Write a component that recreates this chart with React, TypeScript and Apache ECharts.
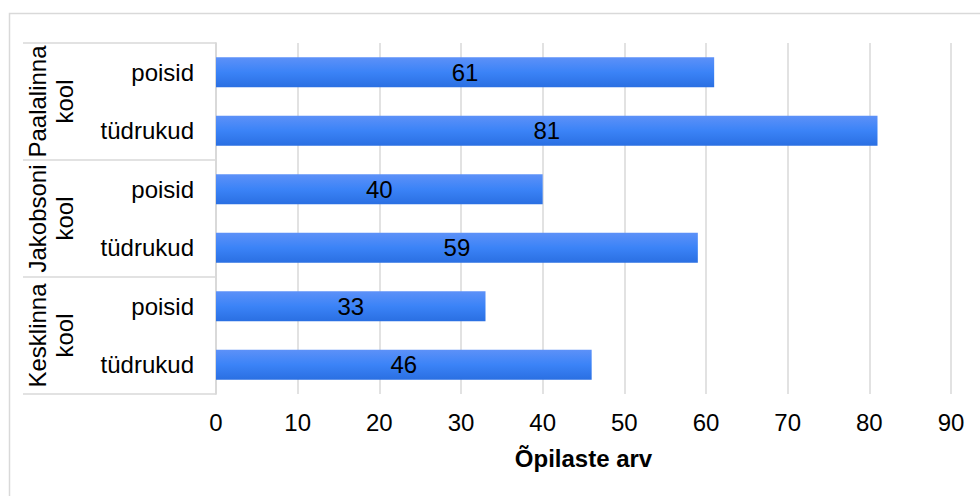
import React, { useEffect, useRef } from "react";
import * as echarts from "echarts";

const schools = ["Paalalinna kool", "Jakobsoni kool", "Kesklinna kool"];
const genders = ["poisid", "tüdrukud"];
const paalalinnaValues = [61, 81];
const jakobsoniValues = [40, 59];
const kesklinnaValues = [33, 46];
const xTicks = { min: 0, max: 90, interval: 10 };
const axisTitle = "Õpilaste arv";

const FONT = "Liberation Sans, Arial, sans-serif";
const GRID = "#d9d9d9";
const FS = 24;

export default function App() {
  const ref = useRef<HTMLDivElement>(null);
  useEffect(() => {
    if (!ref.current) return;
    const chart = echarts.init(ref.current, undefined, { renderer: "svg" });
    const groupValues = [paalalinnaValues, jakobsoniValues, kesklinnaValues];
    const categories: string[] = [];
    const values: number[] = [];
    schools.forEach((s, i) => {
      genders.forEach((g, j) => {
        categories.push(g);
        values.push(groupValues[i][j]);
      });
    });
    chart.setOption({
      animation: false,
      textStyle: { fontFamily: FONT },
      graphic: [
        {
          type: "rect",
          shape: { x: 9.5, y: 13.5, width: 1000, height: 600 },
          style: { fill: "none", stroke: GRID, lineWidth: 1.5 },
          silent: true,
          z: -1,
        },
      ],
      grid: { left: 216, top: 43, width: 735, height: 351 },
      xAxis: {
        type: "value",
        min: xTicks.min,
        max: xTicks.max,
        interval: xTicks.interval,
        axisLine: { show: false },
        axisTick: { show: false },
        splitLine: { lineStyle: { color: GRID, width: 1.5 } },
        axisLabel: { fontSize: FS, color: "#000", margin: 16, fontFamily: FONT },
        name: axisTitle,
        nameLocation: "middle",
        nameGap: 52,
        nameTextStyle: { fontSize: FS, fontWeight: "bold", color: "#000", fontFamily: FONT },
      },
      yAxis: [
        {
          type: "category",
          data: categories,
          inverse: true,
          axisLine: { show: true, lineStyle: { color: GRID, width: 1.5 } },
          axisTick: { show: false },
          axisLabel: { fontSize: FS, color: "#000", margin: 22, interval: 0, fontFamily: FONT },
        },
        {
          type: "category",
          data: schools,
          inverse: true,
          position: "left",
          axisLine: { show: true, lineStyle: { color: GRID, width: 1.5 } },
          axisTick: { show: true, interval: 0, length: 193, lineStyle: { color: GRID, width: 1.5 } },
          axisLabel: {
            fontSize: FS,
            color: "#000",
            rotate: 90,
            margin: 138,
            lineHeight: 27,
            align: "center",
            interval: 0,
            hideOverlap: false,
            fontFamily: FONT,
            formatter: (v: string) => v.replace(" ", "\n"),
          },
        },
      ],
      series: [
        {
          type: "bar",
          yAxisIndex: 0,
          data: values,
          barWidth: 30,
          itemStyle: {
            color: new echarts.graphic.LinearGradient(0, 0, 0, 1, [
              { offset: 0, color: "#5d91f8" },
              { offset: 0.5, color: "#3b83f7" },
              { offset: 1, color: "#2a6fe2" },
            ]),
          },
          label: {
            show: true,
            position: "inside",
            fontSize: FS,
            color: "#000",
            fontFamily: FONT,
          },
        },
      ],
    });
    return () => chart.dispose();
  }, []);
  return (
    <div
      ref={ref}
      style={{ position: "absolute", left: 0, top: 0, width: 980, height: 496 }}
    />
  );
}
